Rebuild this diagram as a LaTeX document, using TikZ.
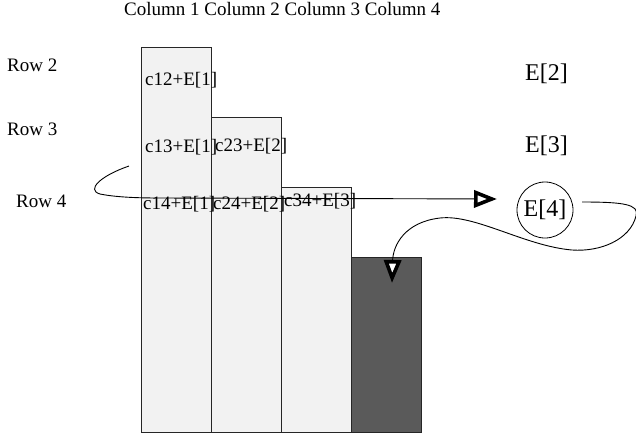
\documentclass[tikz,border=0pt]{standalone}
\usepackage{fontspec}
\setmainfont{Liberation Serif}
\usetikzlibrary{positioning,calc}
\usetikzlibrary{arrows.meta}
\definecolor{CellGray}{RGB}{242,242,242}
\definecolor{DarkCell}{RGB}{90,90,90}
\tikzset{
	bar/.style={draw=black!85,fill=CellGray,line width=1.3pt,inner sep=0pt,
		minimum width=70pt,anchor=north west},
	darkbar/.style={bar,fill=DarkCell},
	lbl/.style={anchor=base west,inner sep=0pt,font=\fontsize{19}{22}\selectfont},
	elbl/.style={anchor=base west,inner sep=0pt,font=\fontsize{24}{28}\selectfont},
	flow/.style={draw=black,line width=0.9pt,
		-{Triangle[length=23pt,width=17pt,line width=3.6pt,fill=white]}},
}
\begin{document}
\begin{tikzpicture}[x=1pt,y=-1pt]
	\useasboundingbox (0,0) rectangle (636,440);
	% columns
	\foreach \c/\xx/\yy in {1/141/47,2/211/117,3/281/187}
	\node[bar,minimum height={(432-\yy)*1pt}] (col\c) at (\xx,\yy) {};
	\node[darkbar,minimum height=175pt] (col4) at (351,257) {};
	% headings
	\node[lbl] (head) at (124,15) {Column 1 Column 2 Column 3 Column 4};
	\node[lbl] (row2) at (7,71) {Row 2};
	\node[lbl] (row3) at (7,135) {Row 3};
	\node[lbl] (row4) at (16,207) {Row 4};
	% cells
	\node[lbl] (c12) at (145,85) {c12+E[1]};
	\node[lbl] (c13) at (145,152) {c13+E[1]};
	\node[lbl] (c23) at (215,151) {c23+E[2]};
	\node[lbl] (c14) at (143,209) {c14+E[1]};
	\node[lbl] (c24) at (213,209) {c24+E[2]};
	\node[lbl] (c34) at (284,206) {c34+E[3]};
	\node[elbl] (e2) at (525,80) {E[2]};
	\node[elbl] (e3) at (525,152) {E[3]};
	\node[draw,circle,line width=0.8pt,minimum size=56pt,inner sep=0pt,
		font=\fontsize{24}{28}\selectfont] (e4) at (545,210) {E[4]};
	% loops
	\coordinate (in1) at (129,166);
	\coordinate (to4) at (497,199);
	\coordinate (out4) at (582,202);
	\coordinate (drop) at (392,283);
	\draw[flow] (in1) .. controls (100,176) and (86,190) .. (100,194)
		.. controls (115,197) and (135,198) .. (160,198) -- (to4);
	\draw[flow] (out4) .. controls (622,202) and (640,204) .. (636,216)
		.. controls (630,240) and (600,252) .. (572,250)
		.. controls (525,246) and (475,214) .. (440,218)
		.. controls (405,222) and (393,245) .. (drop);
\end{tikzpicture}
\end{document}
